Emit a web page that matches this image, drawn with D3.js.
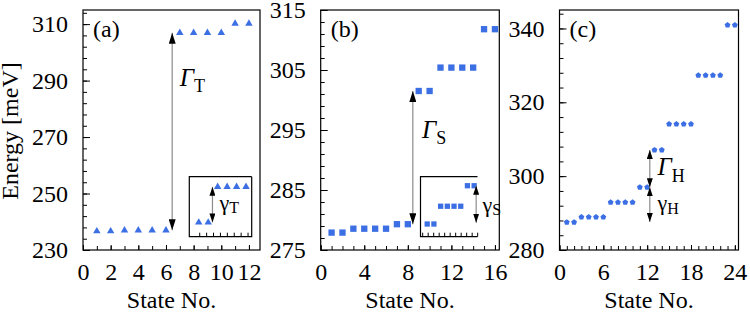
<!DOCTYPE html>
<head>
  <meta charset="utf-8">
  <title>Energy levels by state</title>
<style>
html, body {
  margin: 0;
  padding: 0;
  background: #fff;
}
svg text {
  font-family: 'Liberation Serif', 'Times New Roman', serif;
}
.frame {
  fill: none;
  stroke: #000;
  stroke-width: 1.2;
}
.domain {
  display: none;
}
.guide {
  stroke: #8c8c8c;
  stroke-width: 1.2;
}
</style>
</head>
<body>
<svg width="750" height="315"></svg>
<script src="https://d3js.org/d3.v7.min.js"></script>
<script>
var svg = d3.select("svg");
var blue = "#3c6fe4";

// level energies in meV, one per state
var statesA = [1, 2, 3, 4, 5, 6, 7, 8, 9, 10, 11, 12];
var energyA = [236.65, 236.65, 237.0, 237.0, 237.0, 237.0, 306.9, 306.9, 306.9, 306.9, 310.2, 310.2];

var statesB = [1, 2, 3, 4, 5, 6, 7, 8, 9, 10, 11, 12, 13, 14, 15, 16];
var energyB = [277.9, 277.9, 278.55, 278.55, 278.55, 278.55, 279.3, 279.3,
               301.5, 301.5, 305.4, 305.4, 305.4, 305.4, 311.8, 311.8];

var statesC = [1, 2, 3, 4, 5, 6, 7, 8, 9, 10, 11, 12, 13, 14, 15, 16, 17, 18, 19, 20, 21, 22, 23, 24];
var energyC = [287.5, 287.5, 288.9, 288.9, 288.9, 288.9, 292.9, 292.9, 292.9, 292.9, 297.0, 297.0,
               307.1, 307.1, 314.1, 314.1, 314.1, 314.1, 327.3, 327.3, 327.3, 327.3, 340.9, 340.9];

// tick labels
var yTicksA = [230, 250, 270, 290, 310];
var yTicksB = [275, 285, 295, 305, 315];
var yTicksC = [280, 300, 320, 340];
var xTicksA = [0, 2, 4, 6, 8, 10, 12];
var xTicksB = [0, 4, 8, 12, 16];
var xTicksC = [0, 6, 12, 18, 24];

// insets zoom into the lowest group of (a) and (b)
var insetStatesA = statesA.slice(0, 6);
var insetEnergyA = energyA.slice(0, 6);
var insetStatesB = statesB.slice(0, 8);
var insetEnergyB = energyB.slice(0, 8);

var pentagon = {
  draw: function(ctx, size) {
    var r = Math.sqrt(size / 2.378);
    for (var i = 0; i < 5; i++) {
      var a = -Math.PI / 2 + i * 2 * Math.PI / 5;
      if (i == 0) ctx.moveTo(r * Math.cos(a), r * Math.sin(a));
      else ctx.lineTo(r * Math.cos(a), r * Math.sin(a));
    }
    ctx.closePath();
  }
};

// arrow heads
var defs = svg.append("defs");
[["headL", 11, 7], ["headS", 9, 6]].forEach(function(m) {
  defs.append("marker")
      .attr("id", m[0])
      .attr("viewBox", "0 0 " + m[1] + " " + m[2])
      .attr("refX", m[1]).attr("refY", m[2] / 2)
      .attr("markerWidth", m[1]).attr("markerHeight", m[2])
      .attr("markerUnits", "userSpaceOnUse")
      .attr("orient", "auto-start-reverse")
    .append("path")
      .attr("d", "M0,0L" + m[1] + "," + (m[2] / 2) + "L0," + m[2] + "Z")
      .attr("fill", "#000");
});

function styleText(sel, size) {
  sel.selectAll("text")
     .attr("font-family", "Liberation Serif")
     .attr("font-size", size)
     .attr("fill", "#000");
}

function panel(p) {
  var g = svg.append("g");
  var x = d3.scaleLinear().domain(p.xDomain).range([p.left, p.right]);
  var y = d3.scaleLinear().domain(p.yDomain).range([250, 10]);

  g.append("g").attr("transform", "translate(0,250)")
    .call(d3.axisBottom(x).tickValues(d3.range(0, p.xDomain[1], 1)).tickSize(-4).tickFormat(""));
  var xa = g.append("g").attr("transform", "translate(0,250)")
    .call(d3.axisBottom(x).tickValues(p.xTicks).tickSize(-5).tickPadding(13).tickFormat(d3.format("d")));
  styleText(xa, 24);

  g.append("g").attr("transform", "translate(" + p.left + ",0)")
    .call(d3.axisLeft(y).tickValues(d3.range(p.yDomain[0], p.yDomain[1] + 0.01, p.yMinor)).tickSize(-4).tickFormat(""));
  var ya = g.append("g").attr("transform", "translate(" + p.left + ",0)")
    .call(d3.axisLeft(y).tickValues(p.yTicks).tickSize(-7).tickPadding(15).tickFormat(d3.format("d")));
  styleText(ya, 24);

  g.append("rect").attr("class", "frame")
    .attr("x", p.left).attr("y", 10)
    .attr("width", p.right - p.left).attr("height", 240);

  g.selectAll(".pt").data(p.states)
    .enter().append("path")
      .attr("class", "pt")
      .attr("transform", function(d, i) { return "translate(" + x(d) + "," + y(p.energy[i]) + ")"; })
      .attr("d", d3.symbol().type(p.symbol).size(p.size))
      .attr("fill", blue);

  g.append("text")
    .attr("x", p.left + 10).attr("y", 37)
    .attr("font-size", 24)
    .text("(" + p.id + ")");

  return {g: g, x: x, y: y};
}

function arrow(g, x, y, s, e1, e2, head) {
  g.append("line").attr("class", "guide")
    .attr("x1", x(s)).attr("x2", x(s))
    .attr("y1", y(e1)).attr("y2", y(e2))
    .attr("marker-start", "url(#" + head + ")")
    .attr("marker-end", "url(#" + head + ")");
}

function label(g, px, py, main, sub, italic, size, subSize, shift) {
  var t = g.append("text").attr("x", px).attr("y", py).attr("font-size", size);
  t.append("tspan").attr("font-style", italic ? "italic" : "normal").text(main);
  t.append("tspan").attr("font-size", subSize).attr("dy", shift).text(sub);
}

function inset(g, box, xDomain, yDomain, states, energy, symbol, size, ticks, rightSide) {
  var x = d3.scaleLinear().domain(xDomain).range([box[0], box[1]]);
  var y = d3.scaleLinear().domain(yDomain).range([box[3], box[2]]);
  g.append("rect").attr("x", box[0]).attr("y", box[2])
    .attr("width", box[1] - box[0]).attr("height", box[3] - box[2])
    .attr("fill", "#fff");
  g.append("g").attr("transform", "translate(0," + box[3] + ")")
    .call(d3.axisBottom(x).tickValues(ticks).tickSize(-4).tickFormat(""));
  var pts = [[box[1], box[2]], [box[0], box[2]], [box[0], box[3]], [box[1], box[3]]];
  if (rightSide) pts.push([box[1], box[2]]);
  g.append("path").attr("class", "frame").attr("d", d3.line()(pts));
  g.selectAll(".ins").data(states)
    .enter().append("path")
      .attr("transform", function(d, i) { return "translate(" + x(d) + "," + y(energy[i]) + ")"; })
      .attr("d", d3.symbol().type(symbol).size(size))
      .attr("fill", blue);
  return {x: x, y: y};
}

// (a)
var a = panel({id: "a", left: 83, right: 260, xDomain: [0, 12.8], yDomain: [230, 315],
  xTicks: xTicksA, yTicks: yTicksA, yMinor: 4, states: statesA, energy: energyA,
  symbol: d3.symbolTriangle, size: 24});
arrow(a.g, a.x, a.y, 6.45, 237.0, 306.9, "headL");
label(a.g, a.x(7.0), a.y(288), "\u0393", "T", true, 25, 18, 6);
var ia = inset(a.g, [189.3, 251.7, 176.7, 236.7], [0, 6.6], [236.51, 237.1],
  insetStatesA, insetEnergyA, d3.symbolTriangle, 24, d3.range(1.05, 6.3, 0.73), true);
arrow(a.g, ia.x, ia.y, 2.45, 236.65, 237.0, "headS");
label(a.g, ia.x(3.2), ia.y(236.77), "\u03b3", "T", false, 22, 16, 3);

// (b)
var b = panel({id: "b", left: 320.7, right: 499.3, xDomain: [0, 16.4], yDomain: [275, 315],
  xTicks: xTicksB, yTicks: yTicksB, yMinor: 2, states: statesB, energy: energyB,
  symbol: d3.symbolSquare, size: 40});
arrow(b.g, b.x, b.y, 8.46, 279.3, 301.5, "headL");
label(b.g, b.x(9.3), b.y(293.7), "\u0393", "S", true, 25, 18, 6);
var ib = inset(b.g, [420.5, 477.5, 176.7, 236.7], [0, 8.5], [277.436, 279.63],
  insetStatesB, insetEnergyB, d3.symbolSquare, 28, d3.range(0.25, 8.5, 0.82), false);
arrow(b.g, ib.x, ib.y, 8.3, 279.3, 277.95, "headS");
label(b.g, ib.x(9.25), ib.y(278.35), "\u03b3", "S", false, 22, 16, 3);

// (c)
var c = panel({id: "c", left: 559.5, right: 738.5, xDomain: [0, 24.5], yDomain: [280, 345],
  xTicks: xTicksC, yTicks: yTicksC, yMinor: 4, states: statesC, energy: energyC,
  symbol: pentagon, size: 22});
arrow(c.g, c.x, c.y, 12.36, 297.0, 307.1, "headS");
arrow(c.g, c.x, c.y, 12.36, 297.0, 287.6, "headS");
label(c.g, c.x(13.4), c.y(300.3), "\u0393", "H", true, 25, 18, 7);
label(c.g, c.x(13.4), c.y(290.8), "\u03b3", "H", false, 22, 16, 4);

// axis titles
[[171.5, "State No."], [410, "State No."], [649, "State No."]].forEach(function(t) {
  svg.append("text")
    .attr("x", t[0]).attr("y", 308)
    .attr("text-anchor", "middle")
    .attr("font-size", 24)
    .text(t[1]);
});
svg.append("text")
  .attr("transform", "translate(18,131) rotate(-90)")
  .attr("text-anchor", "middle")
  .attr("font-size", 24)
  .text("Energy [meV]");
</script>
</body>
